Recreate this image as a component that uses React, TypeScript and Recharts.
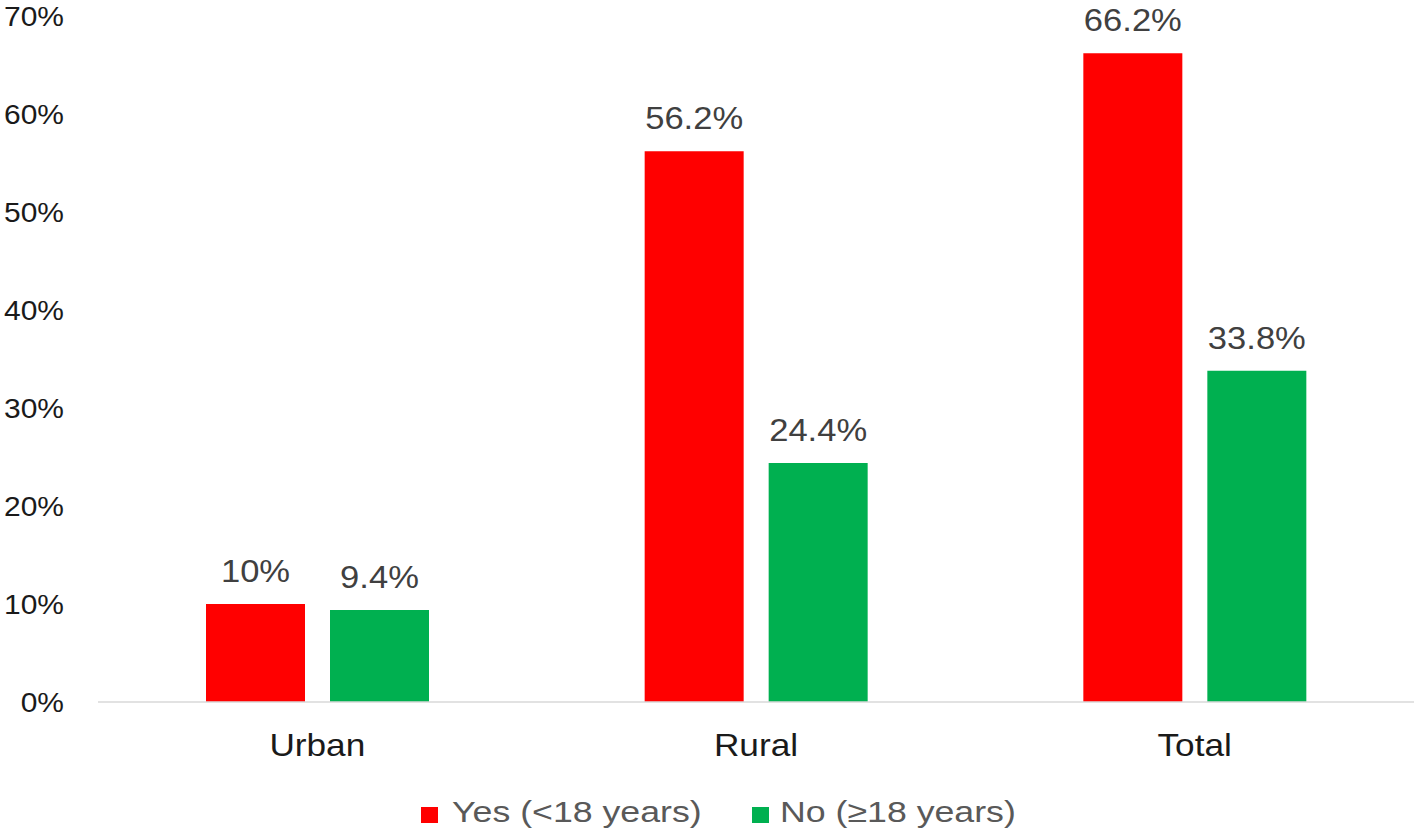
import { BarChart, Bar, XAxis, YAxis, Legend, LabelList } from 'recharts'

const categories = ['Urban', 'Rural', 'Total']
const yesValues = [10, 56.2, 66.2]
const noValues = [9.4, 24.4, 33.8]
const yTicks = [0, 10, 20, 30, 40, 50, 60, 70]
const yesName = 'Yes (<18 years)'
const noName = 'No (≥18 years)'
const legendOrder = [yesName, noName]

const COLORS = {
  yes: '#ff0000',
  no: '#00b050',
  axis: '#d9d9d9',
  tick: '#1a1a1a',
  label: '#404040',
  legend: '#595959',
}

const data = categories.map((name, i) => ({
  name,
  yes: yesValues[i],
  no: noValues[i],
}))

const pct = (v: number | string) => `${v}%`

// the source text is a bit stretched horizontally
function XTick({ x, y, payload }: any) {
  return (
    <g transform={`translate(${x},${y})`}>
      <text textAnchor="middle" dy="0.71em" fontSize={32} fill={COLORS.tick} transform="scale(1.1,1)">
        {payload.value}
      </text>
    </g>
  )
}

function YTick({ x, y, payload }: any) {
  return (
    <g transform={`translate(${x},${y})`}>
      <text textAnchor="end" dy="0.355em" fontSize={27} fill={COLORS.tick} transform="scale(1.11,1)">
        {pct(payload.value)}
      </text>
    </g>
  )
}

function ValueLabel({ x, y, width, value }: any) {
  return (
    <g transform={`translate(${x + width / 2},${y - 22})`}>
      <text textAnchor="middle" fontSize={32} fill={COLORS.label} transform="scale(1.08,1)">
        {pct(value)}
      </text>
    </g>
  )
}

function CustomLegend({ payload }: { payload?: Array<{ value: string; color: string }> }) {
  if (!payload) return null
  const items = [...payload].sort(
    (a, b) => legendOrder.indexOf(a.value) - legendOrder.indexOf(b.value)
  )
  return (
    <div
      style={{
        height: 64,
        display: 'flex',
        alignItems: 'center',
        justifyContent: 'center',
        paddingTop: 16,
        paddingLeft: 24,
        boxSizing: 'border-box',
      }}
    >
      {items.map((entry, index) => (
        <div
          key={index}
          style={{ display: 'flex', alignItems: 'center', marginRight: index === 0 ? 90 : 39 }}
        >
          <div
            style={{
              width: 17,
              height: 16,
              background: entry.color,
              marginRight: index === 0 ? 14 : 11,
              marginTop: 6,
            }}
          />
          <span
            style={{
              color: COLORS.legend,
              fontSize: 30,
              lineHeight: '34px',
              display: 'inline-block',
              transform: 'scaleX(1.19)',
              transformOrigin: 'left center',
              whiteSpace: 'nowrap',
            }}
          >
            {entry.value}
          </span>
        </div>
      ))}
    </div>
  )
}

export default function App() {
  return (
    <div
      style={{
        position: 'absolute',
        left: 0,
        top: 0,
        width: 1418,
        height: 836,
        background: '#fff',
        fontFamily: '"Liberation Sans", Arial, sans-serif',
      }}
    >
      <BarChart
        width={1418}
        height={836}
        data={data}
        margin={{ top: 16, right: 4, left: 0, bottom: 0 }}
        barSize={99}
        barGap={25}
      >
        <XAxis
          dataKey="name"
          axisLine={{ stroke: COLORS.axis, strokeWidth: 1.5 }}
          tickLine={false}
          tickSize={0}
          tickMargin={31}
          height={70}
          tick={<XTick />}
        />
        <YAxis
          domain={[0, 70]}
          ticks={yTicks}
          axisLine={false}
          tickLine={false}
          tickSize={0}
          tickMargin={34}
          width={98}
          tick={<YTick />}
        />
        <Legend verticalAlign="bottom" height={64} content={<CustomLegend />} />
        <Bar dataKey="yes" name={yesName} fill={COLORS.yes} isAnimationActive={false}>
          <LabelList dataKey="yes" content={<ValueLabel />} />
        </Bar>
        <Bar dataKey="no" name={noName} fill={COLORS.no} isAnimationActive={false}>
          <LabelList dataKey="no" content={<ValueLabel />} />
        </Bar>
      </BarChart>
    </div>
  )
}
